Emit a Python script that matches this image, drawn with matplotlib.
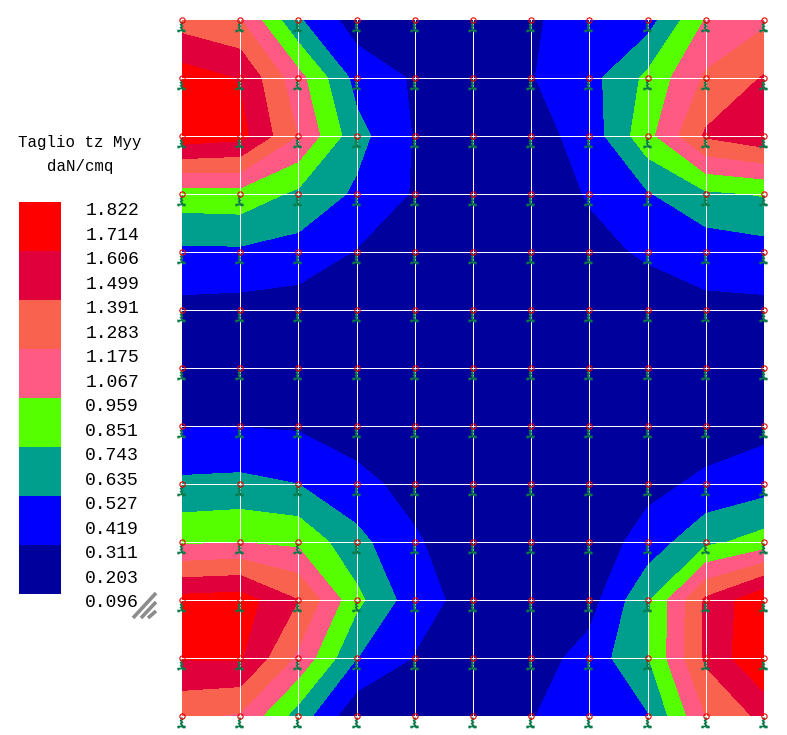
import numpy as np
import matplotlib
matplotlib.use("Agg")
import matplotlib.pyplot as plt
from matplotlib.path import Path

# Constants
W, H = 787, 735
FONT = "Liberation Mono"
INK = "#000000"

# Node values of the shear map, one list per row of the mesh, top to bottom
row_00 = [1.288, 1.180, 0.550, 0.203, 0.150, 0.140, 0.300, 0.350, 0.430, 0.970, 1.130]
row_01 = [1.710, 1.590, 1.030, 0.450, 0.285, 0.160, 0.300, 0.450, 0.790, 1.205, 1.405]
row_02 = [1.736, 1.676, 1.166, 0.600, 0.295, 0.150, 0.220, 0.400, 0.886, 1.420, 1.550]
row_03 = [0.865, 0.881, 0.700, 0.490, 0.290, 0.140, 0.170, 0.330, 0.510, 0.710, 0.760]
row_04 = [0.486, 0.490, 0.440, 0.300, 0.240, 0.120, 0.140, 0.250, 0.340, 0.390, 0.440]
row_05 = [0.250, 0.233, 0.210, 0.150, 0.120, 0.110, 0.120, 0.140, 0.200, 0.270, 0.265]
row_06 = [0.130, 0.130, 0.130, 0.120, 0.110, 0.100, 0.100, 0.110, 0.120, 0.130, 0.140]
row_07 = [0.300, 0.305, 0.287, 0.200, 0.120, 0.100, 0.100, 0.100, 0.130, 0.200, 0.250]
row_08 = [0.565, 0.580, 0.525, 0.380, 0.230, 0.120, 0.110, 0.130, 0.250, 0.355, 0.430]
row_09 = [0.920, 0.950, 0.910, 0.590, 0.340, 0.150, 0.120, 0.180, 0.400, 0.690, 0.830]
row_10 = [1.680, 1.710, 1.391, 0.800, 0.400, 0.230, 0.130, 0.220, 0.710, 1.430, 1.780]
row_11 = [1.620, 1.625, 1.127, 0.530, 0.300, 0.150, 0.200, 0.400, 0.730, 1.430, 1.820]
row_12 = [1.210, 1.150, 0.645, 0.150, 0.100, 0.100, 0.300, 0.430, 0.510, 1.175, 1.450]

# Legend
tick_labels = ["1.822", "1.714", "1.606", "1.499", "1.391", "1.283", "1.175", "1.067", "0.959",
               "0.851", "0.743", "0.635", "0.527", "0.419", "0.311", "0.203", "0.096"]
band_levels = [0.096, 0.311, 0.527, 0.743, 0.959, 1.175, 1.391, 1.606, 1.83]
band_colors = ["#00009c", "#0000ff", "#009e8c", "#55ff00", "#ff5a84", "#f8624f", "#e0003c", "#ff0000"]
title_lines = ["Taglio tz Myy", "daN/cmq"]

# Support symbol below each node, pixels from the node, y up
SUPPORT = Path(
    [(-1, -1), (0, -3), (-2, -4), (0, -6), (-2, -7), (0, -9), (-1, -10),
     (-5, -10), (3, -10), (-5, -11), (-3, -11), (0, -11), (3, -11), (0, 11)],
    [Path.MOVETO, Path.LINETO, Path.LINETO, Path.LINETO, Path.LINETO, Path.LINETO, Path.LINETO,
     Path.MOVETO, Path.LINETO, Path.MOVETO, Path.LINETO, Path.MOVETO, Path.LINETO, Path.MOVETO],
)


def px_axes(fig, left, top, right, bottom):
    return fig.add_axes([left / W, 1 - bottom / H, (right - left) / W, (bottom - top) / H])


def draw_map(fig):
    ax = px_axes(fig, 182, 19.5, 764, 716)
    z = np.array([row_00, row_01, row_02, row_03, row_04, row_05, row_06,
                  row_07, row_08, row_09, row_10, row_11, row_12])
    n_rows, n_cols = z.shape
    xs = np.arange(n_cols)
    ys = np.arange(n_rows)
    ax.contourf(xs, ys, z, levels=band_levels, colors=band_colors, antialiased=False, extend="both")

    # Mesh
    ax.vlines(xs[1:-1], 0, n_rows - 1, color="white", lw=0.5, antialiased=False, zorder=3)
    ax.hlines(ys[1:-1], 0, n_cols - 1, color="white", lw=0.5, antialiased=False, zorder=3)

    # Nodes
    gx, gy = np.meshgrid(xs, ys)
    ax.plot(gx.ravel(), gy.ravel(), ls="none", marker=SUPPORT, ms=11 * 2 * 0.72, mfc="none",
            mec="#0a7a4a", mew=1.2, clip_on=False, zorder=4)
    ax.plot(gx.ravel(), gy.ravel(), ls="none", marker="o", ms=3.8, mfc="none",
            mec="#ee0000", mew=0.8, clip_on=False, zorder=5)

    ax.set_xlim(0, n_cols - 1)
    ax.set_ylim(n_rows - 1, 0)
    ax.axis("off")


def draw_legend(fig):
    ax = px_axes(fig, 19, 202, 61, 594)
    n = len(band_colors)
    ax.bar(np.zeros(n), np.full(n, 2), bottom=np.arange(n) * 2, width=1, align="edge",
           color=band_colors, linewidth=0)
    ax.set_xlim(0, 1)
    ax.set_ylim(0, 2 * n)
    ax.axis("off")

    for i, label in enumerate(tick_labels):
        ax.text(1.58, len(tick_labels) - 1 - i - 0.36, label, family=FONT, fontsize=13, color=INK,
                ha="left", va="center", clip_on=False)


def draw_notes(fig):
    ax = px_axes(fig, 0, 0, W, H)
    ax.set_xlim(0, W)
    ax.set_ylim(H, 0)
    ax.axis("off")
    ax.patch.set_alpha(0)
    for i, line in enumerate(title_lines):
        ax.text(80, 142 + 24 * i, line, family=FONT, fontsize=11.3, color=INK, ha="center", va="center")
    # Small hatch at the end of the scale
    ax.plot([133, 156], [618, 593], color="#8c8c8c", lw=2.6, solid_capstyle="butt")
    ax.plot([141, 156], [618, 602], color="#8c8c8c", lw=2.6, solid_capstyle="butt")
    ax.plot([148, 156], [618, 611], color="#8c8c8c", lw=2.6, solid_capstyle="butt")


if __name__ == "__main__":
    fig = plt.figure(figsize=(W / 100, H / 100), dpi=100, facecolor="white")
    draw_map(fig)
    draw_legend(fig)
    draw_notes(fig)
    fig.savefig("out.png", dpi=100)
